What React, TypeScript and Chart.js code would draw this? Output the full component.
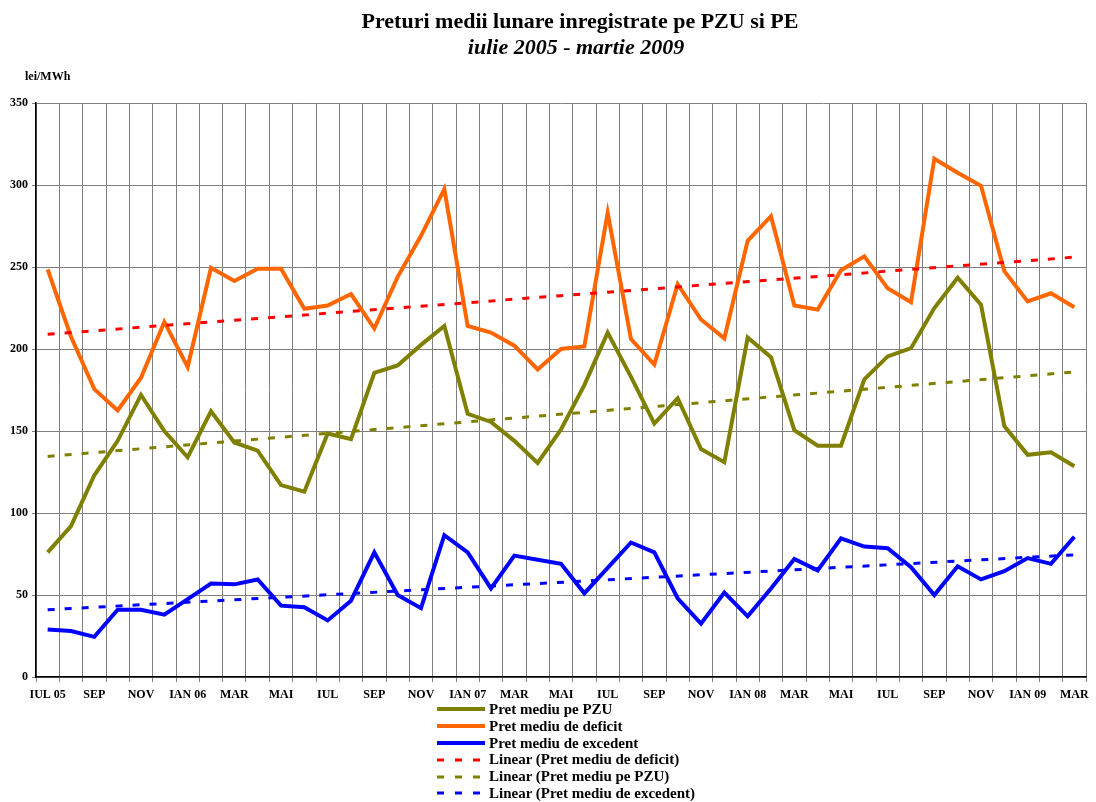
import React, { useEffect, useRef } from "react";
import { Chart, registerables } from "chart.js";

Chart.register(...registerables);

const months = [
  "IUL 05", "AUG 05", "SEP 05", "OCT 05", "NOV 05", "DEC 05",
  "IAN 06", "FEB 06", "MAR 06", "APR 06", "MAI 06", "IUN 06",
  "IUL 06", "AUG 06", "SEP 06", "OCT 06", "NOV 06", "DEC 06",
  "IAN 07", "FEB 07", "MAR 07", "APR 07", "MAI 07", "IUN 07",
  "IUL 07", "AUG 07", "SEP 07", "OCT 07", "NOV 07", "DEC 07",
  "IAN 08", "FEB 08", "MAR 08", "APR 08", "MAI 08", "IUN 08",
  "IUL 08", "AUG 08", "SEP 08", "OCT 08", "NOV 08", "DEC 08",
  "IAN 09", "FEB 09", "MAR 09",
];

const tickLabels = [
  "IUL 05", "", "SEP", "", "NOV", "", "IAN 06", "", "MAR", "", "MAI", "",
  "IUL", "", "SEP", "", "NOV", "", "IAN 07", "", "MAR", "", "MAI", "",
  "IUL", "", "SEP", "", "NOV", "", "IAN 08", "", "MAR", "", "MAI", "",
  "IUL", "", "SEP", "", "NOV", "", "IAN 09", "", "MAR",
];

const pzu = [
  76, 92, 123, 144, 172, 150, 134, 162, 143, 138,
  117, 113, 148.5, 145, 185.5, 190, 202.5, 214, 160.5, 155.5,
  144, 130.5, 151, 178, 210, 183, 154.5, 170, 139, 131,
  207, 195, 150.5, 141, 141, 181.5, 195.5, 200.5, 225, 243.5,
  227, 153, 135.5, 137, 128.5,
];

const deficit = [
  248.5, 207.5, 175.5, 162.5, 182.5, 216.5, 189, 249.5, 241.5, 249,
  249, 224.5, 226.5, 233.5, 212.5, 244, 269, 297.5, 214, 210,
  202, 187.5, 200, 201.5, 283, 206, 190.5, 239.5, 218, 206.5,
  266, 281, 226.5, 224, 248, 256.5, 237, 228.5, 316, 307.5,
  299.5, 247.5, 229, 234, 225.5,
];

const excedent = [
  29, 28, 24.5, 41, 41, 38, 47.5, 57, 56.5, 59.5,
  43.5, 42.5, 34.5, 46.5, 76, 50, 42, 86.5, 76, 54,
  74, 71.5, 69, 51, 66.5, 82, 76, 48, 32.5, 51.5,
  37, 54, 72, 65, 84.5, 79.5, 78.5, 67, 50, 67.5,
  59.5, 64.5, 72.5, 69, 85.5,
];

// trend lines: values at first and last month
const trendDeficit = [209, 256];
const trendPzu = [134.5, 186];
const trendExcedent = [41, 74.5];

const yTicks = [0, 50, 100, 150, 200, 250, 300, 350];

const SERIF = "'Liberation Serif', 'Times New Roman', serif";
const OLIVE = "#808000";
const ORANGE = "#FF6600";
const BLUE = "#0000FF";
const RED = "#FF0000";

const legendItems = [
  { label: "Pret mediu pe PZU", color: OLIVE, dashed: false },
  { label: "Pret mediu de deficit", color: ORANGE, dashed: false },
  { label: "Pret mediu de excedent", color: BLUE, dashed: false },
  { label: "Linear (Pret mediu de deficit)", color: RED, dashed: true },
  { label: "Linear (Pret mediu pe PZU)", color: OLIVE, dashed: true },
  { label: "Linear (Pret mediu de excedent)", color: BLUE, dashed: true },
];

const trend = (vals: number[]) => [
  { x: months[0], y: vals[0] },
  { x: months[months.length - 1], y: vals[1] },
];

const textPlugin = {
  id: "texts",
  afterDraw(chart: any) {
    const ctx = chart.ctx;
    ctx.save();
    ctx.fillStyle = "#000";
    ctx.textAlign = "center";
    ctx.textBaseline = "alphabetic";
    ctx.font = `bold 22px ${SERIF}`;
    ctx.fillText("Preturi medii lunare inregistrate pe PZU si PE", 580, 28);
    ctx.font = `italic bold 22px ${SERIF}`;
    ctx.fillText("iulie 2005 - martie 2009", 576, 54);
    ctx.textAlign = "left";
    ctx.font = `bold 12px ${SERIF}`;
    ctx.fillText("lei/MWh", 25, 80);
    ctx.restore();
  },
};

export default function App() {
  const ref = useRef<HTMLCanvasElement | null>(null);

  useEffect(() => {
    if (!ref.current) return;
    const chart = new Chart(ref.current, {
      type: "line",
      data: {
        labels: months,
        datasets: [
          { label: "Pret mediu pe PZU", data: pzu, borderColor: OLIVE, borderWidth: 4, pointRadius: 0, order: 3 },
          { label: "Pret mediu de deficit", data: deficit, borderColor: ORANGE, borderWidth: 4, pointRadius: 0, order: 2 },
          { label: "Pret mediu de excedent", data: excedent, borderColor: BLUE, borderWidth: 4, pointRadius: 0, order: 1 },
          { label: "Linear (Pret mediu de deficit)", data: trend(trendDeficit) as any, borderColor: RED, borderWidth: 3, borderDash: [7, 10], pointRadius: 0, order: 0 },
          { label: "Linear (Pret mediu pe PZU)", data: trend(trendPzu) as any, borderColor: OLIVE, borderWidth: 3, borderDash: [7, 10], pointRadius: 0, order: 0 },
          { label: "Linear (Pret mediu de excedent)", data: trend(trendExcedent) as any, borderColor: BLUE, borderWidth: 3, borderDash: [7, 10], pointRadius: 0, order: 0 },
        ],
      },
      options: {
        responsive: false,
        animation: false,
        devicePixelRatio: 1,
        layout: { padding: { top: 103, left: 0, right: 10, bottom: 95 } },
        plugins: {
          legend: { display: false },
          tooltip: { enabled: false },
          title: { display: false },
        },
        scales: {
          x: {
            type: "category",
            offset: true,
            grid: { offset: true, color: "#808080", lineWidth: 1, tickLength: 5, drawTicks: true },
            border: { color: "#000", width: 1.5 },
            ticks: {
              autoSkip: false,
              maxRotation: 0,
              minRotation: 0,
              padding: 6,
              color: "#000",
              font: { family: SERIF, size: 12, weight: "bold" },
              callback: (_v: any, i: number) => tickLabels[i],
            },
            afterFit: (s: any) => { s.height = 30; },
          },
          y: {
            min: 0,
            max: 350,
            afterBuildTicks: (s: any) => { s.ticks = yTicks.map((v) => ({ value: v })); },
            grid: { color: "#808080", lineWidth: 1, tickLength: 4 },
            border: { color: "#000", width: 1.5 },
            ticks: {
              padding: 4,
              color: "#000",
              font: { family: SERIF, size: 12, weight: "bold" },
            },
            afterFit: (s: any) => { s.width = 36; },
          },
        },
      },
      plugins: [textPlugin],
    });
    return () => chart.destroy();
  }, []);

  return (
    <div style={{ position: "absolute", left: 0, top: 0, width: 1096, height: 802, background: "#fff" }}>
      <canvas ref={ref} width={1096} height={802} style={{ display: "block", width: 1096, height: 802 }} />
      <div style={{ position: "absolute", left: 437, top: 701, fontFamily: SERIF, fontWeight: "bold", fontSize: 15, color: "#000" }}>
        {legendItems.map((it) => (
          <div key={it.label} style={{ display: "flex", alignItems: "center", height: 16.8, whiteSpace: "nowrap" }}>
            <svg width={48} height={6} style={{ marginRight: 4, flex: "none" }}>
              <line
                x1={0}
                y1={3}
                x2={48}
                y2={3}
                stroke={it.color}
                strokeWidth={it.dashed ? 3 : 4}
                strokeDasharray={it.dashed ? "7 11" : undefined}
              />
            </svg>
            <span style={{ lineHeight: "16.8px" }}>{it.label}</span>
          </div>
        ))}
      </div>
    </div>
  );
}
